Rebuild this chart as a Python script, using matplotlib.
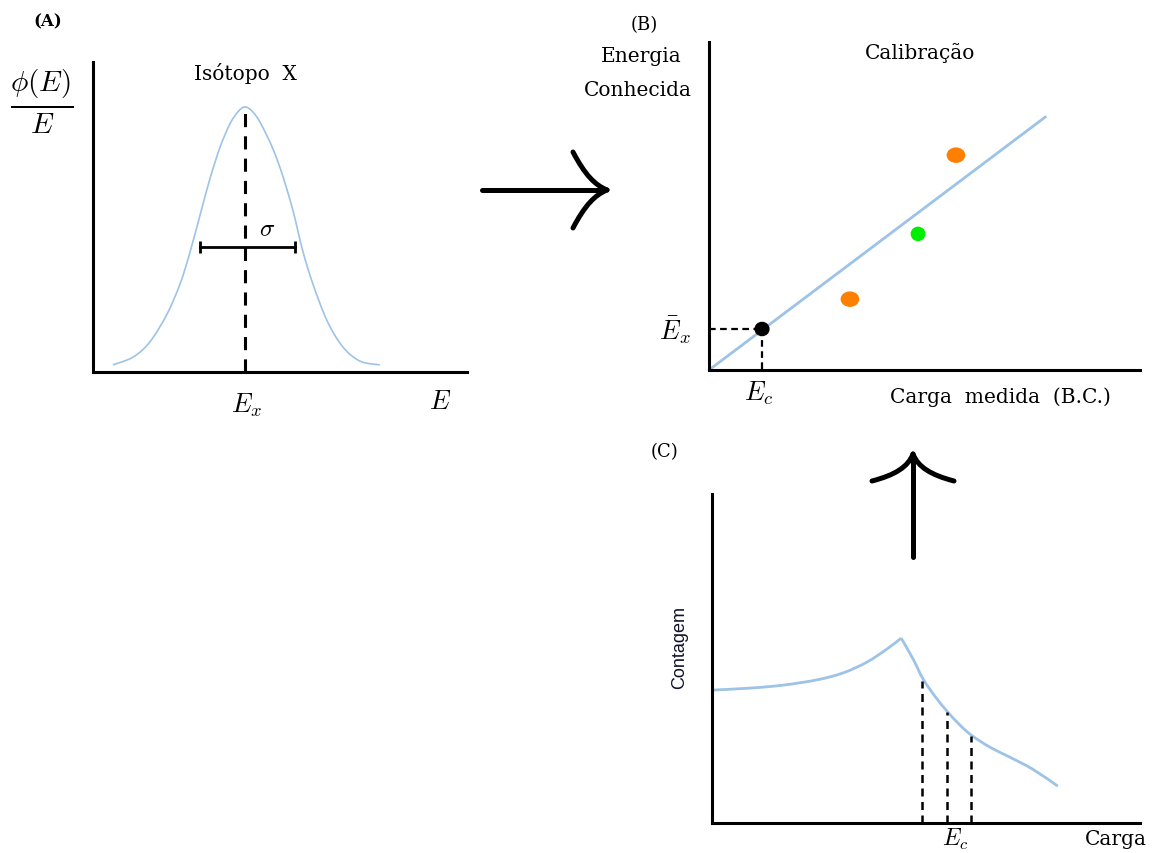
import matplotlib
matplotlib.use("Agg")
import matplotlib.pyplot as plt
from matplotlib.patches import Ellipse, PathPatch
from matplotlib.path import Path

plt.rcParams['mathtext.fontset'] = 'cm'
plt.rcParams['font.family'] = ['DejaVu Serif']

# panel A: gaussian (0-10 scale)
gauss_x = [0.53, 1.07, 1.52, 1.98, 2.33, 2.59, 2.86, 3.13, 3.40, 3.66, 3.88, 4.06,
           4.25, 4.47, 4.81, 5.08, 5.35, 5.61, 5.88, 6.26, 6.68, 7.14, 7.67]
gauss_y = [0.23, 0.48, 0.97, 1.87, 2.85, 3.85, 5.05, 6.25, 7.26, 8.00, 8.40, 8.55,
           8.42, 8.05, 7.20, 6.30, 5.19, 3.90, 2.84, 1.65, 0.81, 0.35, 0.23]
peak_x, peak_y = 4.06, 8.55
sigma_bar = [2.86, 5.40]
sigma_y = 4.03

# panel B: calibration
fit_x = [0.0, 7.80]
fit_y = [0.0, 7.71]
cal_x = [3.27, 4.85, 5.73]
cal_y = [2.16, 4.15, 6.55]
cal_colors = ['#ff7f00', '#00ee00', '#ff7f00']
ex_x, ex_y = 1.23, 1.25

# panel C: charge spectrum (rising part, falling part)
rise_x = [0.02, 0.89, 1.66, 2.45, 3.06, 3.62, 4.09, 4.42]
rise_y = [4.04, 4.10, 4.19, 4.35, 4.56, 4.89, 5.29, 5.62]
fall_x = [4.42, 4.70, 4.93, 5.21, 5.49, 5.79, 6.07, 6.50, 6.96, 7.50, 8.08]
fall_y = [5.62, 4.98, 4.38, 3.85, 3.40, 2.98, 2.66, 2.30, 2.00, 1.63, 1.12]
cut_x = [4.91, 5.49, 6.05]
cut_y = [4.32, 3.37, 2.64]

blue = '#9dc3e6'
W, H = 1152, 854
fig = plt.figure(figsize=(W / 100, H / 100), dpi=100)


def smooth_path(xs, ys):
    # catmull-rom through the read points, drawn as cubic bezier segments
    pts = list(zip(xs, ys))
    n = len(pts)
    verts = [pts[0]]
    codes = [Path.MOVETO]
    for i in range(n - 1):
        p0 = pts[max(i - 1, 0)]
        p1 = pts[i]
        p2 = pts[i + 1]
        p3 = pts[min(i + 2, n - 1)]
        c1 = (p1[0] + (p2[0] - p0[0]) / 6, p1[1] + (p2[1] - p0[1]) / 6)
        c2 = (p2[0] - (p3[0] - p1[0]) / 6, p2[1] - (p3[1] - p1[1]) / 6)
        verts += [c1, c2, p2]
        codes += [Path.CURVE4] * 3
    return Path(verts, codes)


def panel(left, top, right, bottom):
    ax = fig.add_axes([left / W, 1 - bottom / H, (right - left) / W, (bottom - top) / H])
    ax.set_xlim(0, 10)
    ax.set_ylim(0, 10)
    for s in ['top', 'right']:
        ax.spines[s].set_visible(False)
    for s in ['left', 'bottom']:
        ax.spines[s].set_linewidth(2.2)
    ax.set_xticks([])
    ax.set_yticks([])
    ax.patch.set_alpha(0)
    return ax


# (A)
axA = panel(93, 63, 467, 373)
axA.add_patch(PathPatch(smooth_path(gauss_x, gauss_y), fill=False, ec=blue, lw=1.2))
axA.plot([peak_x, peak_x], [0, peak_y], color='black', lw=2.2, ls=(0, (4.3, 3)))
axA.plot(sigma_bar, [sigma_y, sigma_y], color='black', lw=2.0, marker='|', ms=9, mew=2.0)

# (B)
axB = panel(709, 43, 1140, 371)
axB.plot(fit_x, fit_y, color=blue, lw=2.0)
for x, y, c in zip(cal_x, cal_y, cal_colors):
    w = 0.40 if c == '#ff7f00' else 0.31
    h = 0.43 if c == '#ff7f00' else 0.40
    axB.add_patch(Ellipse((x, y), w, h, color=c, zorder=3))
axB.add_patch(Ellipse((ex_x, ex_y), 0.32, 0.40, color='black', zorder=3))
axB.plot([0, ex_x], [ex_y, ex_y], color='black', lw=1.6, ls=(0, (3, 2)))
axB.plot([ex_x, ex_x], [ex_y, 0], color='black', lw=1.6, ls=(0, (3, 2)))

# (C)
axC = panel(712, 495, 1140, 824)
axC.add_patch(PathPatch(smooth_path(rise_x, rise_y), fill=False, ec=blue, lw=2.0))
axC.add_patch(PathPatch(smooth_path(fall_x, fall_y), fill=False, ec=blue, lw=2.0))
for x, y in zip(cut_x, cut_y):
    axC.plot([x, x], [0, y], color='black', lw=1.8, ls=(0, (3.2, 2.2)))

# overlay in pixel coordinates for labels and arrows
ov = fig.add_axes([0, 0, 1, 1])
ov.set_xlim(0, W)
ov.set_ylim(H, 0)
ov.axis('off')
ov.patch.set_alpha(0)

ov.text(48, 22, '(A)', ha='center', va='center', fontsize=12, fontweight='bold')
ov.text(644, 25, '(B)', ha='center', va='center', fontsize=13)
ov.text(665, 452, '(C)', ha='center', va='center', fontsize=13)
ov.text(245, 73, 'Isótopo  X', ha='center', va='center', fontsize=14.5)
ov.text(42, 102, r'$\frac{\phi(E)}{E}$', ha='center', va='center', fontsize=30)
ov.text(267, 230, r'$\sigma$', ha='center', va='center', fontsize=18)
ov.text(247, 405, r'$E_x$', ha='center', va='center', fontsize=19)
ov.text(440, 402, r'$E$', ha='center', va='center', fontsize=19)

ov.text(641, 57, 'Energia', ha='center', va='center', fontsize=14.5)
ov.text(638, 90, 'Conhecida', ha='center', va='center', fontsize=14.5)
ov.text(920, 53, 'Calibração', ha='center', va='center', fontsize=14.5)
ov.text(675, 330, r'$\bar{E}_x$', ha='center', va='center', fontsize=19)
ov.text(759, 393, r'$E_c$', ha='center', va='center', fontsize=19)
ov.text(1000, 397, 'Carga  medida  (B.C.)', ha='center', va='center', fontsize=14.5)

ov.text(1116, 840, 'Carga', ha='center', va='center', fontsize=14.5)
ov.text(955, 839, r'$E_c$', ha='center', va='center', fontsize=17)
ov.text(680, 648, 'Contagem', ha='center', va='center', rotation=90, fontsize=13,
        family=['Liberation Sans'], color='#10102a')

# arrows with curved heads
ov.plot([482, 604], [191, 191], color='black', lw=3.6, solid_capstyle='round')
for sgn in (-1, 1):
    verts = [(573, 191 + sgn * 38), (585, 191 + sgn * 15), (595, 191 + sgn * 5), (607, 191)]
    ov.add_patch(PathPatch(Path(verts, [Path.MOVETO, Path.CURVE4, Path.CURVE4, Path.CURVE4]),
                           fill=False, lw=3.6, capstyle='round'))
ov.plot([913, 913], [558, 457], color='black', lw=3.6, solid_capstyle='round')
for sgn in (-1, 1):
    verts = [(913 + sgn * 41, 482), (913 + sgn * 18, 476), (913 + sgn * 5, 468), (913, 455)]
    ov.add_patch(PathPatch(Path(verts, [Path.MOVETO, Path.CURVE4, Path.CURVE4, Path.CURVE4]),
                           fill=False, lw=3.6, capstyle='round'))

fig.savefig('out.png', dpi=100)
